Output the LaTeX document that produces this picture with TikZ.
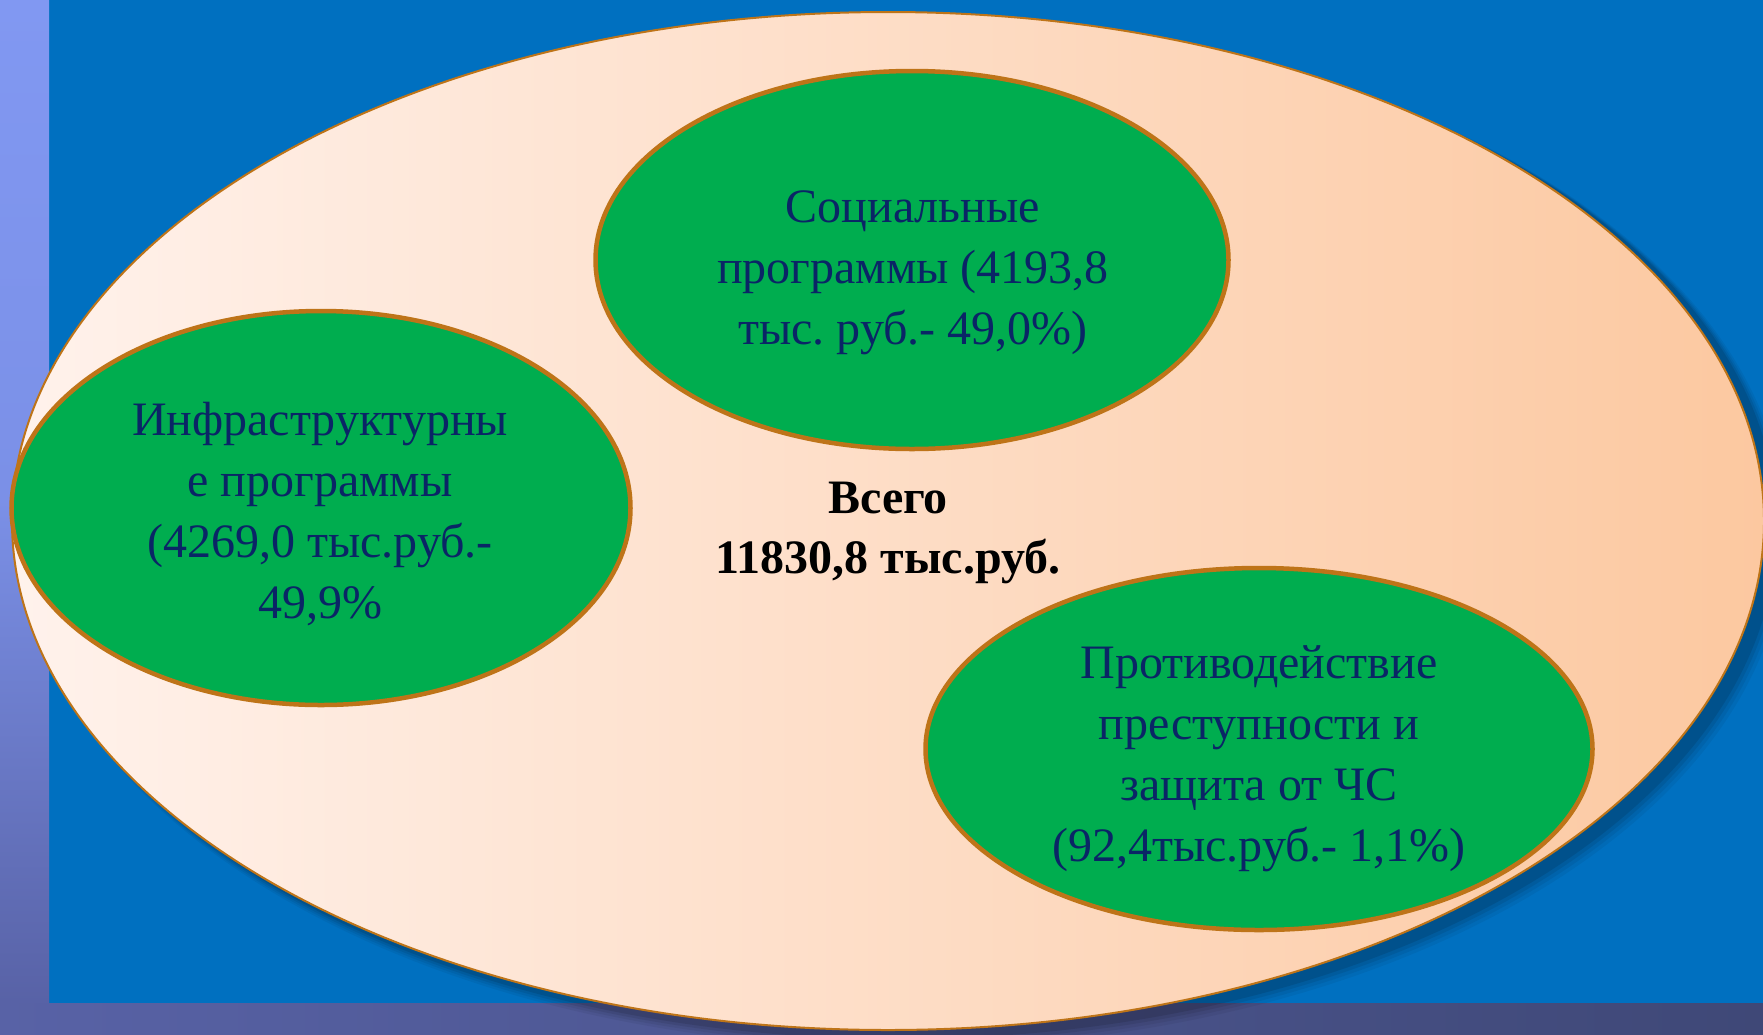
\documentclass[tikz,border=0pt]{standalone}
\usepackage{fontspec}
\setmainfont{Liberation Serif}
\usetikzlibrary{shapes.geometric}
\definecolor{bgblue}{HTML}{0070C0}
\definecolor{stripA}{HTML}{8198F2}
\definecolor{stripB}{HTML}{5862A6}
\definecolor{stripC}{HTML}{3F4877}
\definecolor{peachL}{HTML}{FFF2EC}
\definecolor{peachR}{HTML}{FCC8A0}
\definecolor{rim}{HTML}{BE7418}
\definecolor{greenfill}{HTML}{00AD4F}
\definecolor{navy}{HTML}{0A2566}
\frenchspacing
\tikzset{
  bigoval/.style={ellipse, draw=rim, line width=2pt, inner sep=0pt, left color=peachL, right color=peachR},
  greenoval/.style={ellipse, draw=rim, line width=4.5pt, fill=greenfill, inner sep=0pt},
  lbl/.style={align=center, text=navy, font=\rmfamily\fontsize{48}{61}\selectfont},
  total/.style={align=center, text=black, font=\rmfamily\fontsize{48}{60}\selectfont\bfseries}
}
\begin{document}
\begin{tikzpicture}[x=1pt,y=-1pt]
\useasboundingbox (0,0) rectangle (1763,1034);
% background
\fill[bgblue] (0,0) rectangle (1763,1034);
\shade[top color=stripA, bottom color=stripB, middle color=stripA!85!stripB] (0,0) rectangle (49,1003);
\shade[left color=stripB, right color=stripC] (0,1003) rectangle (1763,1034);
% soft shadow
\foreach \o/\a in {14/0.05,11/0.06,8/0.08,5/0.1}{
  \fill[black, opacity=\a] (896+\o*0.6,525+\o*0.6) ellipse [x radius=876+\o*0.4, y radius=509+\o*0.4];
}
% big oval
\node[bigoval, minimum width=1752pt, minimum height=1018pt] (all) at (888,521) {};
% green ovals
\node[greenoval, minimum width=619pt, minimum height=394pt] (infra) at (321,508) {};
\node[greenoval, minimum width=633pt, minimum height=378pt] (soc) at (912,260) {};
\node[greenoval, minimum width=667pt, minimum height=362pt] (crime) at (1259,749) {};
% texts
\node[lbl] (tinfra) at (320,514) {Инфраструктурны\\е программы\\(4269,0 тыс.руб.-\\49,9\%};
\node[lbl] (tsoc) at (913,273) {Социальные\\программы (4193,8\\тыс. руб.- 49,0\%)};
\node[lbl] (tcrime) at (1259,759) {Противодействие\\преступности и\\защита от ЧС\\(92,4тыс.руб.- 1,1\%)};
\node[total] (ttotal) at (888,533) {Всего\\11830,8 тыс.руб.};
\end{tikzpicture}
\end{document}
